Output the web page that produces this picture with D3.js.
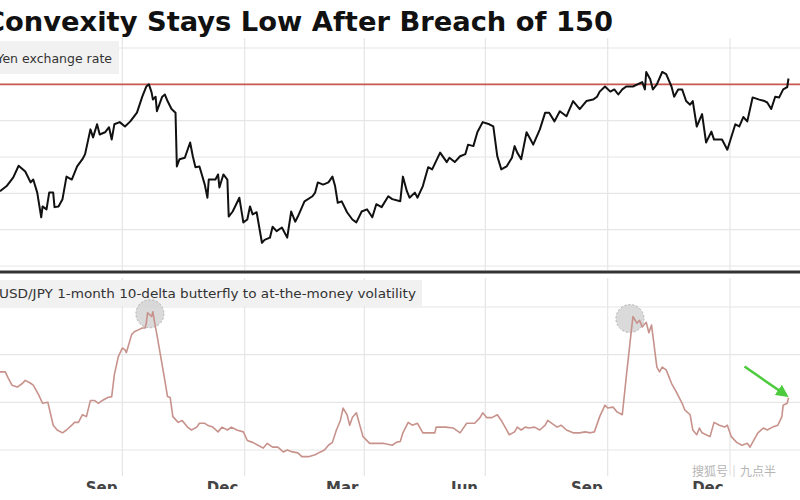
<!DOCTYPE html>
<html>
<head>
<meta charset="utf-8">
<script src="https://cdn.jsdelivr.net/npm/d3@7"></script>
<style>
  body { margin: 0; background: #fff; }
  svg { display: block; font-family: "DejaVu Sans", sans-serif; }
</style>
</head>
<body>
<svg id="chart" width="800" height="500"></svg>
<script>
// USD/JPY daily close
var fxDates = [
  "2022-07-01","2022-07-06","2022-07-11","2022-07-15","2022-07-20","2022-07-24","2022-07-26","2022-07-29",
  "2022-08-01","2022-08-02","2022-08-05","2022-08-07","2022-08-10","2022-08-11","2022-08-14","2022-08-17",
  "2022-08-20","2022-08-24","2022-08-28","2022-09-01","2022-09-03","2022-09-07","2022-09-09","2022-09-12",
  "2022-09-14","2022-09-18","2022-09-21","2022-09-23","2022-09-25","2022-09-29","2022-10-03","2022-10-07",
  "2022-10-12","2022-10-16","2022-10-19","2022-10-21","2022-10-23","2022-10-24","2022-10-26","2022-10-27",
  "2022-10-31","2022-11-02","2022-11-04","2022-11-07","2022-11-10","2022-11-11","2022-11-13","2022-11-17",
  "2022-11-21","2022-11-23","2022-11-25","2022-11-28","2022-12-02","2022-12-04","2022-12-05","2022-12-10",
  "2022-12-12","2022-12-13","2022-12-16","2022-12-19","2022-12-20","2022-12-23","2022-12-28","2022-12-31",
  "2023-01-03","2023-01-05","2023-01-07","2023-01-10","2023-01-14","2023-01-16","2023-01-20","2023-01-22",
  "2023-01-25","2023-01-29","2023-02-02","2023-02-05","2023-02-08","2023-02-10","2023-02-15","2023-02-21",
  "2023-02-23","2023-02-25","2023-03-01","2023-03-05","2023-03-08","2023-03-10","2023-03-12","2023-03-15",
  "2023-03-19","2023-03-23","2023-03-26","2023-03-30","2023-04-03","2023-04-07","2023-04-10","2023-04-14",
  "2023-04-19","2023-04-22","2023-04-28","2023-04-30","2023-05-03","2023-05-05","2023-05-09","2023-05-11",
  "2023-05-15","2023-05-19","2023-05-22","2023-05-28","2023-06-02","2023-06-04","2023-06-08","2023-06-12",
  "2023-06-16","2023-06-18","2023-06-22","2023-06-25","2023-06-29","2023-07-04","2023-07-07","2023-07-10",
  "2023-07-13","2023-07-17","2023-07-21","2023-07-23","2023-07-25","2023-07-28","2023-08-01","2023-08-04",
  "2023-08-06","2023-08-11","2023-08-15","2023-08-18","2023-08-22","2023-08-26","2023-08-31","2023-09-05",
  "2023-09-10","2023-09-15","2023-09-20","2023-09-23","2023-09-25","2023-09-29","2023-10-03","2023-10-06",
  "2023-10-09","2023-10-12","2023-10-15","2023-10-20","2023-10-27","2023-10-29","2023-10-30","2023-11-02",
  "2023-11-04","2023-11-07","2023-11-11","2023-11-14","2023-11-18","2023-11-20","2023-11-23","2023-11-26",
  "2023-11-29","2023-12-02","2023-12-04","2023-12-07","2023-12-11","2023-12-14","2023-12-18","2023-12-20",
  "2023-12-26","2023-12-30","2024-01-05","2024-01-08","2024-01-11","2024-01-14","2024-01-18","2024-01-23",
  "2024-01-27","2024-01-29","2024-02-01","2024-02-04","2024-02-07","2024-02-10","2024-02-13","2024-02-14"
];
var fxValues = [
  135.3,136.0,137.2,138.8,138.0,136.5,136.9,135.1,
  131.7,133.2,132.8,135.1,135.1,133.1,133.2,134.2,
  137.3,136.9,138.7,139.7,140.4,143.8,142.7,144.5,
  143.1,143.4,144.1,142.4,144.5,144.8,144.2,144.9,
  146.1,148.3,149.7,150.0,148.9,147.9,148.3,146.3,
  148.3,148.6,147.7,146.6,146.1,138.7,139.7,139.9,
  142.0,140.1,138.6,138.7,136.2,134.4,136.9,136.9,
  137.6,135.8,137.6,136.9,131.8,132.5,134.4,131.0,
  131.4,133.2,132.1,132.4,128.2,128.6,128.9,130.4,
  129.8,130.3,128.9,132.5,131.1,131.8,133.9,134.6,
  135.1,136.5,136.2,136.5,137.3,136.0,133.7,133.9,
  132.4,131.4,131.0,132.5,132.8,131.7,133.5,133.1,
  134.6,134.2,133.9,137.3,135.3,134.4,135.1,134.4,
  136.0,138.6,138.3,140.6,139.3,139.9,139.3,140.1,
  140.4,141.7,141.5,143.4,144.8,144.5,144.2,140.1,
  138.3,138.7,139.9,141.5,140.6,139.7,143.4,142.4,
  141.7,143.8,146.1,146.1,144.9,146.3,145.6,147.7,
  146.6,147.7,147.9,148.3,149.0,149.7,149.0,149.3,
  148.6,149.3,149.7,149.7,150.3,149.3,151.7,150.7,
  149.3,150.0,151.7,151.4,149.7,148.3,149.3,149.3,
  147.7,147.2,147.7,144.2,145.9,142.0,143.5,142.4,
  142.4,141.0,144.5,144.2,145.5,144.9,148.2,147.9,
  147.7,147.5,146.6,148.3,148.2,149.3,149.6,150.8
];

// 1-month 10-delta butterfly / ATM vol (%)
var flyDates = [
  "2022-07-01","2022-07-05","2022-07-07","2022-07-10","2022-07-14","2022-07-18","2022-07-20","2022-07-24",
  "2022-07-26","2022-07-30","2022-08-02","2022-08-06","2022-08-10","2022-08-13","2022-08-17","2022-08-20",
  "2022-08-24","2022-08-26","2022-08-29","2022-09-01","2022-09-04","2022-09-07","2022-09-10","2022-09-13",
  "2022-09-16","2022-09-20","2022-09-23","2022-09-25","2022-09-28","2022-10-01","2022-10-03","2022-10-04",
  "2022-10-08","2022-10-10","2022-10-13","2022-10-16","2022-10-18","2022-10-19","2022-10-20","2022-10-23",
  "2022-10-24","2022-10-25","2022-10-27","2022-11-01","2022-11-04","2022-11-06","2022-11-08","2022-11-12",
  "2022-11-15","2022-11-19","2022-11-22","2022-11-26","2022-11-28","2022-12-02","2022-12-04","2022-12-08",
  "2022-12-12","2022-12-15","2022-12-19","2022-12-22","2022-12-26","2022-12-31","2023-01-03","2023-01-07",
  "2023-01-11","2023-01-15","2023-01-18","2023-01-22","2023-01-26","2023-01-30","2023-02-02","2023-02-06",
  "2023-02-10","2023-02-13","2023-02-18","2023-02-23","2023-02-27","2023-03-02","2023-03-05","2023-03-08",
  "2023-03-11","2023-03-14","2023-03-16","2023-03-19","2023-03-21","2023-03-23","2023-03-26","2023-03-29",
  "2023-03-31","2023-04-05","2023-04-10","2023-04-15","2023-04-22","2023-04-25","2023-04-28","2023-04-30",
  "2023-05-04","2023-05-07","2023-05-11","2023-05-15","2023-05-20","2023-05-24","2023-05-25","2023-06-01",
  "2023-06-07","2023-06-12","2023-06-17","2023-06-23","2023-06-27","2023-06-29","2023-07-02","2023-07-06",
  "2023-07-10","2023-07-13","2023-07-17","2023-07-19","2023-07-23","2023-07-25","2023-07-28","2023-07-31",
  "2023-08-03","2023-08-07","2023-08-11","2023-08-15","2023-08-17","2023-08-20","2023-08-24","2023-08-27",
  "2023-08-31","2023-09-05","2023-09-10","2023-09-14","2023-09-18","2023-09-21","2023-09-25","2023-09-29",
  "2023-10-01","2023-10-05","2023-10-08","2023-10-12","2023-10-15","2023-10-18","2023-10-20","2023-10-23",
  "2023-10-25","2023-10-27","2023-10-30","2023-11-01","2023-11-03","2023-11-07","2023-11-09","2023-11-11",
  "2023-11-14","2023-11-18","2023-11-22","2023-11-26","2023-11-28","2023-12-02","2023-12-04","2023-12-07",
  "2023-12-09","2023-12-11","2023-12-14","2023-12-17","2023-12-20","2023-12-24","2023-12-28","2023-12-30",
  "2024-01-02","2024-01-06","2024-01-10","2024-01-14","2024-01-16","2024-01-18","2024-01-22","2024-01-26",
  "2024-01-29","2024-02-02","2024-02-06","2024-02-09","2024-02-10","2024-02-13","2024-02-14"
];
var flyValues = [
  18.2,18.2,17.6,16.8,16.6,17.0,17.3,17.0,
  16.8,15.8,14.9,15.0,12.6,12.1,11.8,12.1,
  12.6,12.9,12.9,13.7,13.5,15.2,15.2,14.9,
  15.2,15.5,15.6,17.9,19.8,20.7,20.5,20.2,
  22.1,22.4,22.6,22.8,22.8,23.3,24.4,24.0,
  24.5,23.6,22.1,18.1,15.6,15.5,13.5,12.9,
  13.1,12.4,12.1,12.4,12.8,12.8,12.6,12.4,
  11.9,12.4,12.1,12.4,12.1,11.9,11.0,10.8,
  10.5,10.2,10.7,10.3,10.3,9.8,10.0,9.8,
  9.7,9.3,9.3,9.5,9.8,10.0,10.5,10.8,
  12.1,13.1,14.4,13.7,12.6,13.4,13.9,12.4,
  11.4,10.7,10.7,10.7,10.5,10.8,10.9,11.8,
  12.9,12.6,12.8,11.8,11.8,11.8,12.4,12.4,
  12.3,11.8,12.8,12.8,13.4,13.9,13.4,13.4,
  13.7,13.1,12.1,11.6,11.9,12.4,12.1,12.4,
  12.3,12.4,12.1,12.6,13.1,12.8,12.4,12.6,
  12.1,11.8,11.8,11.9,11.8,11.9,13.5,14.7,
  14.4,14.5,14.0,13.7,17.7,21.5,24.0,23.3,
  23.6,22.9,23.4,22.3,23.1,18.7,18.2,18.7,
  18.4,17.0,16.0,14.9,14.2,13.7,12.1,11.6,
  12.3,11.8,11.6,11.4,12.9,12.6,12.4,12.6,
  11.4,10.8,10.5,10.7,10.3,10.8,11.8,12.3,
  12.1,12.4,12.6,13.5,14.7,14.9,15.5
];

var fxGrid = [125, 130, 135, 140, 145, 150, 155];
var flyGrid = [10, 15, 20, 25];
var quarterStarts = ["2022-10-01", "2023-01-01", "2023-04-01", "2023-07-01", "2023-10-01", "2024-01-01"];
var monthTicks = ["2022-09-15", "2022-12-15", "2023-03-15", "2023-06-15", "2023-09-15", "2023-12-15"];
var breachLevel = 150;

var parse = d3.utcParse("%Y-%m-%d");
var fx = fxDates.map((d, i) => ({date: parse(d), value: fxValues[i]}));
var fly = flyDates.map((d, i) => ({date: parse(d), value: flyValues[i]}));

var svg = d3.select("#chart");
svg.append("rect").attr("width", 800).attr("height", 500).attr("fill", "#fff");

var x = d3.scaleUtc()
  .domain([parse("2022-07-01"), parse("2024-01-01")])
  .range([0, 730]);
var yFx = d3.scaleLinear().domain([125, 155]).range([266, 48]);
var yFly = d3.scaleLinear().domain([10, 25]).range([450, 307]);

// title (cropped on the left, like the source)
svg.append("text")
  .attr("x", -15).attr("y", 31)
  .attr("textLength", 628).attr("lengthAdjust", "spacingAndGlyphs")
  .attr("font-size", 26).attr("font-weight", "bold").attr("fill", "#111")
  .text("Convexity Stays Low After Breach of 150");

// grid
var grid = svg.append("g").attr("stroke", "#e6e6e6").attr("stroke-width", 1.2);
grid.selectAll(".hfx").data(fxGrid).enter().append("line")
  .attr("x1", 0).attr("x2", 800)
  .attr("y1", d => yFx(d)).attr("y2", d => yFx(d));
grid.selectAll(".hfly").data(flyGrid).enter().append("line")
  .attr("x1", 0).attr("x2", 800)
  .attr("y1", d => yFly(d)).attr("y2", d => yFly(d));
grid.selectAll(".vtop").data(quarterStarts).enter().append("line")
  .attr("x1", d => x(parse(d))).attr("x2", d => x(parse(d)))
  .attr("y1", 38).attr("y2", 270);
grid.selectAll(".vbot").data(quarterStarts).enter().append("line")
  .attr("x1", d => x(parse(d))).attr("x2", d => x(parse(d)))
  .attr("y1", 278).attr("y2", 476);

// panel labels
svg.append("rect").attr("x", 0).attr("y", 41).attr("width", 119).attr("height", 33).attr("fill", "#f1f1f1");
svg.append("text")
  .attr("x", 112).attr("y", 63).attr("text-anchor", "end")
  .attr("font-size", 12.5).attr("fill", "#333")
  .text("Yen exchange rate");

svg.append("rect").attr("x", 0).attr("y", 280).attr("width", 422).attr("height", 26).attr("fill", "#f1f1f1");
svg.append("text")
  .attr("x", -1).attr("y", 298)
  .attr("textLength", 417).attr("lengthAdjust", "spacingAndGlyphs")
  .attr("font-size", 12.5).attr("fill", "#333")
  .text("USD/JPY 1-month 10-delta butterfly to at-the-money volatility");

// 150 breach level
svg.append("line")
  .attr("x1", 0).attr("x2", 800)
  .attr("y1", yFx(breachLevel)).attr("y2", yFx(breachLevel))
  .attr("stroke", "#c85a52").attr("stroke-width", 1.6);

// exchange rate line
svg.append("path")
  .datum(fx)
  .attr("fill", "none").attr("stroke", "#111").attr("stroke-width", 2)
  .attr("stroke-linejoin", "round")
  .attr("d", d3.line().x(d => x(d.date)).y(d => yFx(d.value)));

// separator between panels
svg.append("line").attr("x1", 0).attr("x2", 800).attr("y1", 272).attr("y2", 272)
  .attr("stroke", "#333").attr("stroke-width", 3);

// highlight circles on the two butterfly spikes
var half = parse("2023-04-01");
var peaks = [
  d3.greatest(fly.filter(d => d.date < half), d => d.value),
  d3.greatest(fly.filter(d => d.date >= half), d => d.value)
];
svg.selectAll(".peak").data(peaks).enter().append("circle")
  .attr("cx", d => x(d.date) - 3).attr("cy", d => yFly(d.value) + 2)
  .attr("r", 14)
  .attr("fill", "#d4d4d4").attr("fill-opacity", 0.85)
  .attr("stroke", "#b0b0b0").attr("stroke-dasharray", "2,2");

// butterfly line
svg.append("path")
  .datum(fly)
  .attr("fill", "none").attr("stroke", "#c8928c").attr("stroke-width", 1.6)
  .attr("stroke-linejoin", "round")
  .attr("d", d3.line().x(d => x(d.date)).y(d => yFly(d.value)));

// green arrow to latest butterfly reading
var last = fly[fly.length - 1];
var defs = svg.append("defs");
defs.append("marker")
  .attr("id", "arrow").attr("viewBox", "0 0 10 10")
  .attr("refX", 8).attr("refY", 5)
  .attr("markerWidth", 5).attr("markerHeight", 5)
  .attr("orient", "auto")
  .append("path").attr("d", "M0,0 L10,5 L0,10 Z").attr("fill", "#4ccc3c");
svg.append("line")
  .attr("x1", x(last.date) - 44).attr("y1", yFly(last.value) - 31)
  .attr("x2", x(last.date) - 2).attr("y2", yFly(last.value) - 2)
  .attr("stroke", "#4ccc3c").attr("stroke-width", 2.5)
  .attr("marker-end", "url(#arrow)");

// month labels, cut off by the bottom edge like the source
defs.append("clipPath").attr("id", "cut")
  .append("rect").attr("x", 0).attr("y", 470).attr("width", 800).attr("height", 19);
var xAxis = d3.axisBottom(x)
  .tickValues(monthTicks.map(parse))
  .tickFormat(d3.utcFormat("%b"))
  .tickSize(0);
var axisG = svg.append("g")
  .attr("clip-path", "url(#cut)")
  .append("g")
  .attr("transform", "translate(0,479)")
  .call(xAxis);
axisG.select(".domain").remove();
axisG.selectAll("text")
  .attr("font-family", "DejaVu Sans, sans-serif")
  .attr("font-size", 15).attr("font-weight", "bold").attr("fill", "#444");

// watermark
svg.append("text")
  .attr("x", 692).attr("y", 476)
  .attr("font-family", "Noto Sans CJK SC, sans-serif")
  .attr("font-size", 12).attr("fill", "#b5b5b5")
  .text("搜狐号｜九点半");
</script>
</body>
</html>
